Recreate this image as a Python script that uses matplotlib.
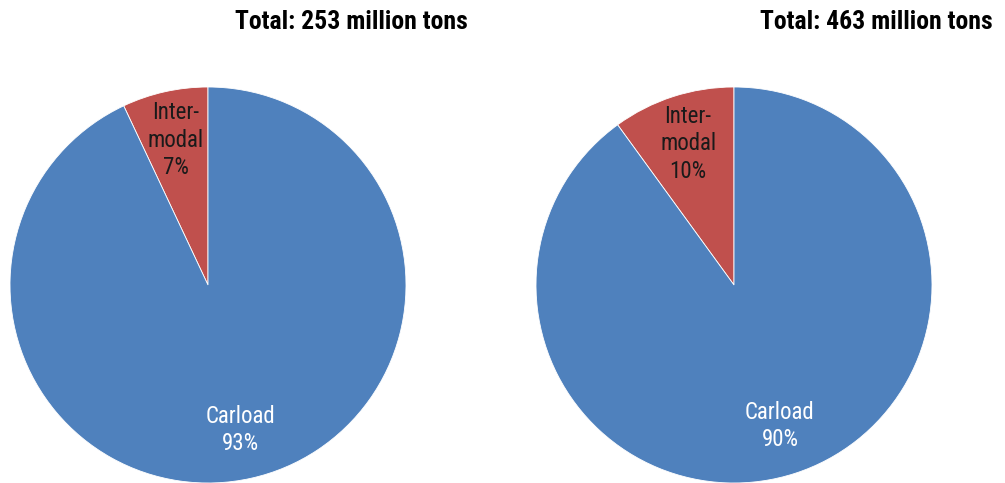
import matplotlib
matplotlib.use("Agg")
from matplotlib import pyplot as plt
from matplotlib import font_manager

# narrow font if there is one
names = set(f.name for f in font_manager.fontManager.ttflist)
narrow = [n for n in ['Liberation Sans Narrow', 'Arial Narrow', 'Roboto Condensed',
                      'DejaVu Sans Condensed'] if n in names]
plt.rcParams['font.family'] = narrow + ['Liberation Sans', 'DejaVu Sans']

# data
categories = ["Inter-\nmodal", "Carload"]
share_left = [7, 93]
share_right = [10, 90]
titles = ["Total: 253 million tons", "Total: 463 million tons"]
colors = ["#C0504D", "#4F81BD"]
label_colors = ["#1a1a1a", "white"]

W, H = 1005, 483
fig = plt.figure(figsize=(W / 100, H / 100), dpi=100)

# pie boxes in pixels: left, top, size
boxes = [(10, 87, 396), (536, 87, 396)]
title_x = [351, 876]

for (px, py, sz), vals, title, tx in zip(boxes, [share_left, share_right], titles, title_x):
    ax = fig.add_axes([px / W, (H - py - sz) / H, sz / W, sz / H])
    labels = [f"{c}\n{v}%" for c, v in zip(categories, vals)]
    wedges, texts = ax.pie(vals, colors=colors, startangle=90, counterclock=True,
                           labels=labels, labeldistance=0.75, radius=1,
                           wedgeprops=dict(edgecolor="white", linewidth=0.6),
                           textprops=dict(fontsize=16.5, ha="center", va="center",
                                          linespacing=1.25))
    for t, c in zip(texts, label_colors):
        t.set_color(c)
        t.set_horizontalalignment("center")
    ax.set_xlim(-1, 1)
    ax.set_ylim(-1, 1)
    ax.set_aspect("equal")
    ax.axis("off")
    fig.text(tx / W, 1 - 22 / H, title, ha="center", va="center",
             fontsize=18.5, fontweight="bold", color="black")

plt.savefig("out.png", dpi=100)
